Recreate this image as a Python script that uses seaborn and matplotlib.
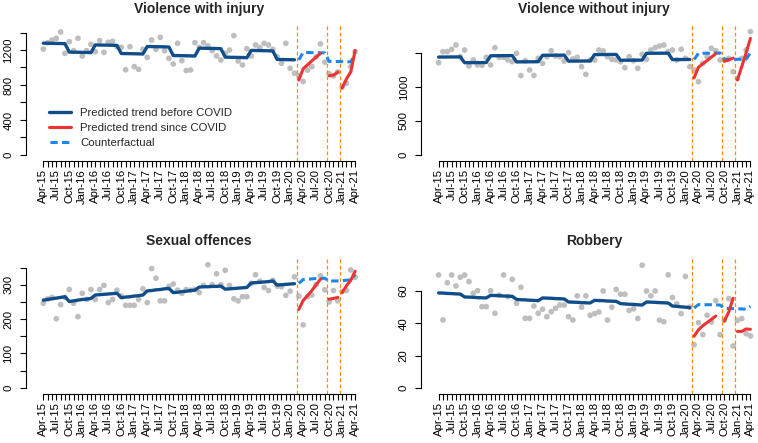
import numpy as np
import pandas as pd
import matplotlib
matplotlib.use("Agg")
import matplotlib.pyplot as plt
import seaborn as sns
from matplotlib.lines import Line2D

# monthly axis, Apr-15 .. Apr-21
months = pd.date_range("2015-04-01", "2021-04-01", freq="MS")
month_idx = np.arange(len(months))
tick_labels = [d.strftime("%b-%y") if i % 3 == 0 else "" for i, d in enumerate(months)]

pre_idx = np.arange(0, 59)      # Apr-15 .. Feb-20
cf_idx = np.arange(59, 73)      # Mar-20 .. Apr-21
seg_a_idx = np.arange(59, 65)
seg_b_idx = np.arange(66, 69)
seg_c_idx = np.arange(69, 73)
event_lines = [58.5, 65.5, 68.5]

# ---- Violence with injury
vwi_obs = [1211, 1284, 1314, 1333, 1406, 1162, 1295, 1192, 1333, 1131,
           1192, 1265, 1181, 1307, 1173, 1288, 1299, 1238, 1230, 975,
           1238, 1010, 979, 1208, 1116, 1314, 1208, 1345, 1192, 1105,
           1040, 1276, 1078, 965, 971, 1284, 1230, 1284, 1246, 1192,
           1131, 1086, 1162, 1200, 1364, 1074, 1029, 1215, 1131, 1257,
           1227, 1276, 1257, 1208, 1124, 1048, 1276, 990, 935, 905,
           840, 970, 1010, 1120, 1270, 1060, 930, 905, 950, 780,
           820, 1010, 1180]
vwi_pre = [1278, 1277, 1276, 1275, 1274, 1272, 1176, 1175, 1174, 1173, 1172, 1170,
           1258, 1257, 1256, 1255, 1254, 1252, 1160, 1159, 1158, 1157, 1156, 1154,
           1240, 1239, 1238, 1237, 1236, 1234, 1137, 1136, 1135, 1134, 1133, 1131,
           1221, 1220, 1219, 1218, 1217, 1215, 1118, 1117, 1116, 1115, 1114, 1112,
           1195, 1194, 1193, 1192, 1191, 1189, 1092, 1091, 1090, 1089, 1088]
vwi_cf = [1087, 1172, 1171, 1170, 1169, 1168, 1167, 1070, 1069, 1068, 1067, 1066, 1065, 1150]
vwi_a = [857, 985, 1030, 1075, 1120, 1160]
vwi_b = [905, 912, 948]
vwi_c = [765, 870, 950, 1195]

# ---- Violence without injury
vwo_obs = [1358, 1520, 1520, 1554, 1618, 1446, 1544, 1309, 1397, 1324,
           1319, 1436, 1324, 1578, 1436, 1436, 1397, 1373, 1495, 1167,
           1387, 1250, 1170, 1422, 1348, 1446, 1534, 1456, 1446, 1382,
           1505, 1412, 1436, 1299, 1186, 1397, 1397, 1544, 1529, 1446,
           1407, 1397, 1373, 1284, 1446, 1387, 1275, 1480, 1407, 1544,
           1578, 1603, 1618, 1520, 1544, 1397, 1554, 1422, 1299, 1250,
           1078, 1348, 1446, 1569, 1534, 1397, 1397, 1422, 1225, 1127,
           1422, 1544, 1814]
vwo_pre = [1440, 1441, 1441, 1442, 1442, 1443, 1357, 1358, 1358, 1359, 1359, 1360,
           1459, 1460, 1460, 1461, 1461, 1462, 1369, 1370, 1370, 1371, 1371, 1372,
           1466, 1467, 1467, 1468, 1468, 1469, 1380, 1381, 1381, 1382, 1382, 1383,
           1476, 1477, 1477, 1478, 1478, 1479, 1393, 1394, 1394, 1395, 1395, 1396,
           1495, 1496, 1496, 1497, 1497, 1498, 1403, 1404, 1404, 1405, 1405]
vwo_cf = [1405, 1495, 1496, 1497, 1498, 1499, 1500, 1405, 1406, 1406, 1407, 1407, 1408, 1505]
vwo_a = [1135, 1290, 1340, 1390, 1440, 1490]
vwo_b = [1380, 1395, 1425]
vwo_c = [1105, 1300, 1500, 1715]

# ---- Sexual offences
so_obs = [246, 259, 263, 201, 242, 263, 286, 246, 207, 275,
          257, 286, 257, 286, 298, 248, 257, 284, 267, 240,
          240, 240, 257, 288, 248, 347, 319, 253, 253, 295,
          302, 284, 275, 286, 284, 286, 277, 298, 358, 300,
          332, 300, 342, 298, 259, 253, 265, 265, 304, 329,
          310, 292, 283, 313, 296, 294, 269, 281, 323, 267,
          183, 265, 270, 300, 326, 285, 250, 283, 253, 280,
          283, 343, 322]
so_pre = [255, 257, 259, 261, 263, 265, 251, 253, 255, 257, 258, 260,
          270, 271, 272, 273, 274, 275, 262, 264, 265, 267, 268, 270,
          282, 283, 285, 286, 288, 289, 277, 278, 280, 281, 283, 284,
          293, 294, 294, 295, 295, 296, 287, 288, 289, 290, 291, 292,
          305, 306, 307, 308, 309, 311, 299, 300, 301, 302, 303]
so_cf = [304, 315, 316, 317, 318, 318, 319, 310, 311, 311, 312, 313, 314, 330]
so_a = [228, 254, 268, 283, 300, 316]
so_b = [258, 260, 263]
so_c = [277, 297, 313, 339]

# ---- Robbery
rob_obs = [69.9, 42.1, 65.1, 69.9, 63.1, 68.5, 69.9, 65.8, 58.6, 60.2,
           50.3, 50.3, 60.2, 46.2, 57.5, 69.9, 56.5, 67.2, 52.4, 62.3,
           43.1, 43.1, 50.7, 46.2, 48.7, 44.1, 47.2, 49.3, 51.3, 51.3,
           44.1, 42.1, 57.0, 50.0, 57.0, 45.0, 46.0, 47.0, 60.0, 42.0,
           50.0, 61.0, 58.0, 58.0, 48.0, 49.0, 43.0, 76.0, 60.0, 57.0,
           60.0, 42.0, 41.0, 70.0, 56.0, 52.0, 46.0, 69.0, 50.0, 26.8,
           40.4, 33.0, 45.0, 40.8, 54.0, 33.0, 41.9, 55.3, 26.0, 41.9,
           42.9, 33.6, 32.2]
rob_pre = [58.8, 58.7, 58.5, 58.4, 58.2, 58.1, 56.3, 56.2, 56.1, 55.9, 55.8, 55.7,
           57.3, 57.2, 57.1, 56.9, 56.8, 56.7, 54.8, 54.6, 54.5, 54.3, 54.2, 54.0,
           55.7, 55.6, 55.5, 55.3, 55.2, 55.1, 53.2, 53.1, 53.0, 52.8, 52.7, 52.6,
           54.2, 54.1, 54.0, 53.8, 53.7, 53.6, 52.2, 52.0, 51.8, 51.7, 51.5, 51.3,
           53.2, 53.1, 53.0, 52.8, 52.7, 52.6, 50.7, 50.5, 50.2, 50.0, 49.7]
rob_cf = [49.5, 51.6, 51.6, 51.5, 51.5, 51.4, 51.3, 49.3, 49.2, 49.1, 49.0, 48.9, 48.8, 50.5]
rob_a = [32.0, 36.0, 38.5, 40.5, 42.5, 44.5]
rob_b = [41.5, 47.0, 55.5]
rob_c = [35.0, 35.0, 36.5, 36.3]

PRE_COL = "#104E8B"
POST_COL = "#EE3333"
CF_COL = "#1C86EE"
EVENT_COL = "#FF8C00"
PT_COL = "#BEBEBE"

sns.set_style("white")
plt.rcParams["font.family"] = ["Liberation Sans", "DejaVu Sans"]

W, H = 758, 443
fig = plt.figure(figsize=(W / 100, H / 100), dpi=100)

# left, top, bottom (px), pixel of y=0, px per unit, y ticks, labelled ticks
panels = [
    ("Violence with injury", vwi_obs, vwi_pre, vwi_cf, vwi_a, vwi_b, vwi_c,
     26, 25, 161, 155, 0.0875, list(range(0, 1401, 200)), [0, 400, 800, 1200]),
    ("Violence without injury", vwo_obs, vwo_pre, vwo_cf, vwo_a, vwo_b, vwo_c,
     421.3, 25, 161, 155, 0.068, [0, 500, 1000, 1500], [0, 500, 1000]),
    ("Sexual offences", so_obs, so_pre, so_cf, so_a, so_b, so_c,
     26, 257.5, 393.7, 387.7, 0.3433, list(range(0, 351, 50)), [0, 100, 200, 300]),
    ("Robbery", rob_obs, rob_pre, rob_cf, rob_a, rob_b, rob_c,
     421.3, 257.5, 393.7, 388, 1.6167, [0, 20, 40, 60], [0, 20, 40, 60]),
]

AX_W = 346
for k, (title, obs, pre, cf, seg_a, seg_b, seg_c, left, top, bottom, zero, ppu, yt, ylab) in enumerate(panels):
    ax = fig.add_axes([left / W, 1 - bottom / H, AX_W / W, (bottom - top) / H])
    sns.scatterplot(x=month_idx, y=obs, color=PT_COL, s=17, edgecolor="none",
                    linewidth=0, ax=ax, zorder=1)
    for v in event_lines:
        ax.axvline(v, color=EVENT_COL, lw=0.9, ls=(0, (3, 2)), zorder=2)
    sns.lineplot(x=pre_idx, y=pre, color=PRE_COL, lw=2.4, ax=ax, zorder=3,
                 solid_capstyle="round")
    sns.lineplot(x=cf_idx, y=cf, color=CF_COL, lw=2.2, ax=ax, zorder=3,
                 linestyle=(0, (2.4, 1.4)), dash_capstyle="butt")
    for idx, seg in ((seg_a_idx, seg_a), (seg_b_idx, seg_b), (seg_c_idx, seg_c)):
        sns.lineplot(x=idx, y=seg, color=POST_COL, lw=2.2, ax=ax, zorder=4,
                     solid_capstyle="round")

    ax.set_xlim(-4.0, 75.9)
    ax.set_ylim(-(bottom - zero) / ppu, (zero - top) / ppu)
    ax.set_xlabel("")
    ax.set_ylabel("")

    ax.set_xticks(month_idx)
    ax.set_xticklabels(tick_labels, rotation=90)
    ax.set_yticks(yt)
    ax.set_yticklabels([str(t) if t in ylab else "" for t in yt], rotation=90, va="center")
    ax.tick_params(axis="x", bottom=True, length=4, width=0.8, pad=1.8,
                   labelsize=8.2, colors="black")
    ax.tick_params(axis="y", left=True, length=4.3, width=0.8, pad=4.8,
                   labelsize=8.2, colors="black")

    for s in ("top", "right"):
        ax.spines[s].set_visible(False)
    ax.spines["left"].set_bounds(0, yt[-1])
    ax.spines["bottom"].set_bounds(0, 72)
    for s in ("left", "bottom"):
        ax.spines[s].set_linewidth(0.8)
        ax.spines[s].set_color("black")

    ax.set_title(title, fontsize=10, fontweight="bold", pad=8.9)

    if k == 0:
        handles = [
            Line2D([], [], color=PRE_COL, lw=2.4),
            Line2D([], [], color=POST_COL, lw=2.2),
            Line2D([], [], color=CF_COL, lw=2.2, ls=(3.5, (2.4, 1.4))),
        ]
        ax.legend(handles, ["Predicted trend before COVID", "Predicted trend since COVID",
                            "Counterfactual"],
                  loc="upper left", bbox_to_anchor=(49.3 / W, 1 - 108 / H),
                  bbox_transform=fig.transFigure, frameon=False, fontsize=8.2,
                  borderpad=0, borderaxespad=0, handlelength=1.88,
                  handletextpad=0.82, labelspacing=0.45)

fig.savefig("out.png", dpi=100)
